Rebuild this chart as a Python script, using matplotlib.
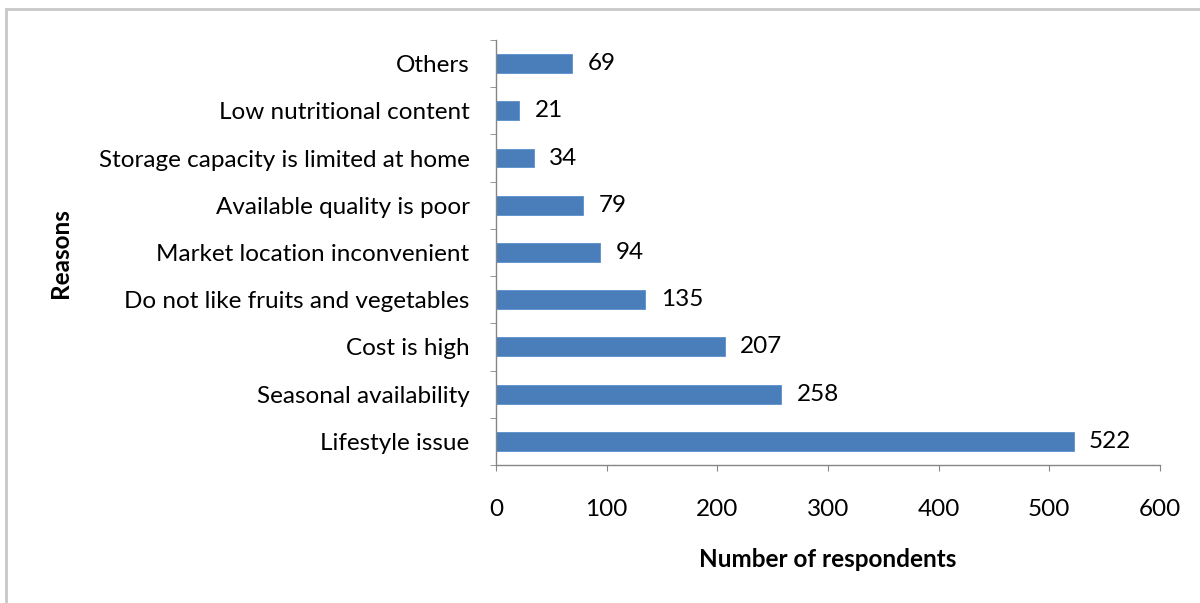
import matplotlib.pyplot as plt
import numpy as np
from matplotlib.patches import Rectangle

reasons = ['Lifestyle issue', 'Seasonal availability', 'Cost is high',
           'Do not like fruits and vegetables', 'Market location inconvenient',
           'Available quality is poor', 'Storage capacity is limited at home',
           'Low nutritional content', 'Others']
counts = [522, 258, 207, 135, 94, 79, 34, 21, 69]

plt.rcParams['font.family'] = ['Lato', 'DejaVu Sans']

fig = plt.figure(figsize=(12, 6.03), dpi=100)
ax = fig.add_axes([0.4133, 0.2289, 0.5533, 0.7048])

# chart frame, open on the right and bottom
fig.patches.append(Rectangle((0.005, -0.05), 1.1, 1.035, transform=fig.transFigure,
                             fill=False, edgecolor='#c8c8c8', linewidth=2))

y = np.arange(len(reasons))
ax.barh(y, counts, height=0.4, color='#4a7ebb', edgecolor='#5b8fcc', linewidth=0.6)

for yi, c in zip(y, counts):
    ax.annotate(str(c), (c, yi), xytext=(11, 0), textcoords='offset points',
                va='center', ha='left', fontsize=17.5)

ax.set_xlim(0, 600)
ax.set_ylim(-0.5, len(reasons) - 0.5)
ax.set_xticks(range(0, 601, 100))
ax.set_yticks(y)
ax.set_yticklabels(reasons)
ax.set_yticks(np.arange(-0.5, len(reasons)), minor=True)

for s in ['top', 'right']:
    ax.spines[s].set_visible(False)
for s in ['left', 'bottom']:
    ax.spines[s].set_color('#868686')
    ax.spines[s].set_linewidth(1)

ax.tick_params(axis='y', which='major', length=0, pad=19, labelsize=17.5)
ax.tick_params(axis='y', which='minor', length=4.5, color='#868686', direction='out')
ax.tick_params(axis='x', length=4.5, color='#868686', direction='out', pad=20, labelsize=17.5)

ax.set_xlabel('Number of respondents', fontsize=17.5, fontweight='bold', labelpad=20)
fig.text(0.05, 0.58, 'Reasons', rotation=90, fontsize=17.5, fontweight='bold',
         ha='center', va='center')

fig.savefig('out.png', dpi=100)
